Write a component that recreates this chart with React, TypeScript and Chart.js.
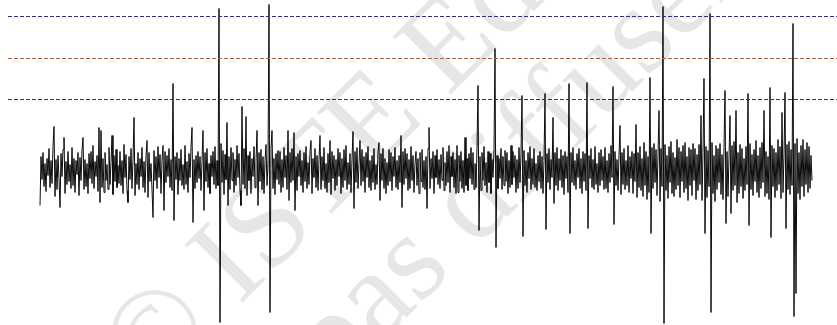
import React, { useEffect, useRef } from "react";
import { Chart, registerables } from "chart.js";

Chart.register(...registerables);

// Recorded signal amplitude (arbitrary units), one value per sample
const signalValues: number[] = [
  -35, 14, -9, 18, -16, 7, -21, 12, -5, 22, -17, 10, -13, 24, 44, -26, 11, -19, 15, -8,
  -37, 17, -6, 21, 33, -23, 9, -14, 19, -11, 6, -18, 23, -15, 12, -22, 10, -4, 18, -25,
  13, -10, 20, 33, -19, 11, -16, 7, -23, 17, -8, 19, -13, 25, -18, 9, -6, 15, -21, 43,
  -32, 40, -17, 12, -22, 18, -10, 6, -19, 23, -14, 8, 35, -24, 15, -11, 21, -17, 5, -13,
  19, -15, 10, -23, 26, -7, 16, -20, -32, 14, -9, 22, -18, 11, 53, -25, 7, -14, 18, -19,
  12, -6, 23, -17, 9, -22, 15, 30, -27, 18, -11, 7, -19, -47, 20, -10, 14, -18, 24, -7,
  16, -23, 10, 25, -40, 19, -12, 15, -6, 22, -17, 11, -20, 87, -50, 14, -9, 18, -24, 12,
  -10, 21, -15, 6, -19, 25, -14, 9, -22, 17, -7, 23, 43, -52, 11, -18, 15, -12, 19, -8,
  14, -20, 10, 40, -40, 18, -11, 22, -17, 7, -23, 15, -6, 19, -14, 24, -18, 10, -15, 162,
  -152, 27, -12, 20, -24, 16, -9, 48, -35, 14, -19, 23, -10, 18, -22, 11, -15, 25, -7, 17,
  -20, -35, 64, -14, 22, -18, 54, -25, 15, -10, 19, -23, 12, -6, 24, -17, 9, 40, -35, 18,
  -11, 21, -19, 14, -23, 10, 26, -15, 7, 166, -142, 22, 40, -18, 12, -24, 17, -9, 20, -14,
  19, -22, 11, -17, 23, -7, 15, -19, 40, -30, 18, -12, 22, -10, 38, -40, 14, -20, 17, -6,
  20, -15, 10, -22, 18, -11, 24, -18, 8, -14, 19, 30, -23, 12, -7, 22, -17, 15, -20, 11,
  35, -19, 14, -10, 23, -18, 7, -22, 17, -12, 30, -24, 19, -8, 15, -20, 11, -15, 22, -6,
  18, -23, 12, -17, 21, -10, 25, -19, 8, -14, 17, -22, 11, 39, -38, 19, -12, 23, -18, 7,
  30, -15, 21, -11, 14, -22, 18, -7, 24, -17, 10, -20, 15, -12, 22, -19, 6, -14, 19, 28,
  -30, 17, -10, 22, -18, 12, -23, 8, -15, 21, -11, 18, -20, 14, -6, 23, -17, 10, -19, 15,
  -12, 35, -37, 19, -14, 22, -8, 17, -20, 11, -18, 24, -10, 15, -22, 7, 19, -15, 12, -23,
  18, -11, 21, -17, 10, -19, 14, -38, 22, 43, -18, 12, -8, 19, -23, 15, -7, 21, -14, 11,
  -18, 16, -10, 23, -20, 8, -15, 19, -12, 25, -22, 14, -6, 18, -17, 11, -23, 25, -22, 15,
  -11, 19, -18, 10, -22, 33, -15, 12, -20, 17, -8, 23, -14, 18, -19, 7, -17, 22, 85, -60,
  14, -20, 18, -10, 24, -15, 8, -22, 19, -12, 17, -23, 11, -7, 21, 122, -77, 15, -18, 12,
  -8, 22, -19, 14, -15, 20, -11, 18, -23, 10, -17, 25, -14, 19, -7, 15, -22, 11, -18, 23,
  -12, 17, 75, -66, 20, -15, 10, -22, 18, -8, 24, -19, 12, -14, 22, -17, 7, -20, 15, -11,
  19, -18, 14, -23, 10, 77, -59, 17, -12, 22, -19, 11, -7, 53, -33, 18, -15, 23, -20, 12,
  -10, 21, -17, 15, -24, 19, -8, 14, -22, 87, -63, 18, -12, 23, -15, 10, -19, 17, -7, 22,
  -18, 12, -23, 19, -11, 17, -20, 88, -58, 15, -8, 22, -17, 11, -19, 24, -14, 7, -22, 18,
  -15, 21, -10, 14, -19, 23, -18, 10, -22, 17, -12, 25, -7, 84, -54, 19, -15, 11, -20, 15,
  45, -24, 18, -14, 22, -19, 10, -15, 25, -22, 14, -8, 19, -23, 17, -11, 46, -27, 18, -17,
  24, -20, 12, -26, 28, -15, 19, -29, 14, -22, 93, -63, 23, -18, 27, -12, 21, -25, 16, 60,
  -31, 22, -16, 164, -153, 26, -20, 15, -28, 24, -12, 29, -23, 18, -26, 13, -19, 31, -15, 23,
  -27, 19, -11, 25, -22, 28, -18, 14, -30, 23, -15, 21, -25, 27, -10, 22, -29, 16, -20, 26,
  -14, 55, -30, 18, 92, -63, 24, -27, 20, -16, 157, -142, 28, -23, 15, -31, 25, -19, 22, -12,
  27, -24, 16, -29, 23, 80, -53, 19, -26, 14, 55, -43, 25, -20, 29, -15, 60, -32, 18, -23,
  26, -16, 22, -28, 12, -20, 24, -14, 77, -55, 27, -19, 16, -25, 21, -11, 30, -22, 15, -27,
  23, -18, 28, -12, 60, -26, 19, -23, 14, -29, 83, -67, 25, -16, 22, -27, 18, -20, 31, -14,
  24, -28, 58, -22, 16, 78, -58, 26, -19, 29, -24, 21, -15, 147, -146, 27, -123, 32, -23, 18,
  -29, 25, -16, 31, -26, 21, -14, 28, -22, 24, -18, 15, -10,
];

// Detection thresholds (same units as the signal)
const thresholdValues: number[] = [154, 112, 71];
const thresholdColors: string[] = ["#2a2ab0", "#d0561e", "#34344e"];
const thresholdStart = -32; // sample index where threshold lines begin
const thresholdEnd = 797;

// Watermark text
const watermarkLines: string[] = ["© ISTE Editions", "ne pas diffuser"];

const watermarkPlugin = {
  id: "watermark",
  beforeDatasetsDraw(chart: any) {
    const ctx = chart.ctx as CanvasRenderingContext2D;
    ctx.save();
    ctx.fillStyle = "#e6e6e6";
    ctx.font = '125px "Liberation Serif", "DejaVu Serif", serif';
    ctx.textBaseline = "alphabetic";
    ctx.textAlign = "left";
    const origins = [
      [150, 395],
      [230, 494],
    ];
    watermarkLines.forEach((line, i) => {
      ctx.save();
      ctx.translate(origins[i][0], origins[i][1]);
      ctx.rotate(-Math.PI / 4);
      ctx.fillText(line, 0, 0);
      ctx.restore();
    });
    ctx.restore();
  },
};

export default function App() {
  const canvasRef = useRef<HTMLCanvasElement | null>(null);

  useEffect(() => {
    if (!canvasRef.current) return;
    const signalData = signalValues.map((v, i) => ({ x: i, y: v }));
    const thresholdSets = thresholdValues.map((t, i) => ({
      label: "threshold " + (i + 1),
      data: [
        { x: thresholdStart, y: t },
        { x: thresholdEnd, y: t },
      ],
      borderColor: thresholdColors[i],
      borderWidth: 1,
      borderDash: [4, 2],
      pointRadius: 0,
      fill: false,
    }));
    const chart = new Chart(canvasRef.current, {
      type: "line",
      data: {
        datasets: [
          ...thresholdSets,
          {
            label: "signal",
            data: signalData,
            borderColor: "#0a0a0a",
            borderWidth: 1,
            pointRadius: 0,
            fill: false,
            tension: 0,
          },
        ] as any,
      },
      options: {
        animation: false,
        responsive: true,
        maintainAspectRatio: false,
        layout: { padding: 0 },
        plugins: {
          legend: { display: false },
          tooltip: { enabled: false },
        },
        scales: {
          x: { type: "linear", min: -40, max: 797, display: false },
          y: { type: "linear", min: -154.5, max: 170.5, display: false },
        },
      },
      plugins: [watermarkPlugin],
    });
    return () => chart.destroy();
  }, []);

  return (
    <div style={{ position: "absolute", left: 0, top: 0, width: 837, height: 325 }}>
      <canvas ref={canvasRef} />
    </div>
  );
}
